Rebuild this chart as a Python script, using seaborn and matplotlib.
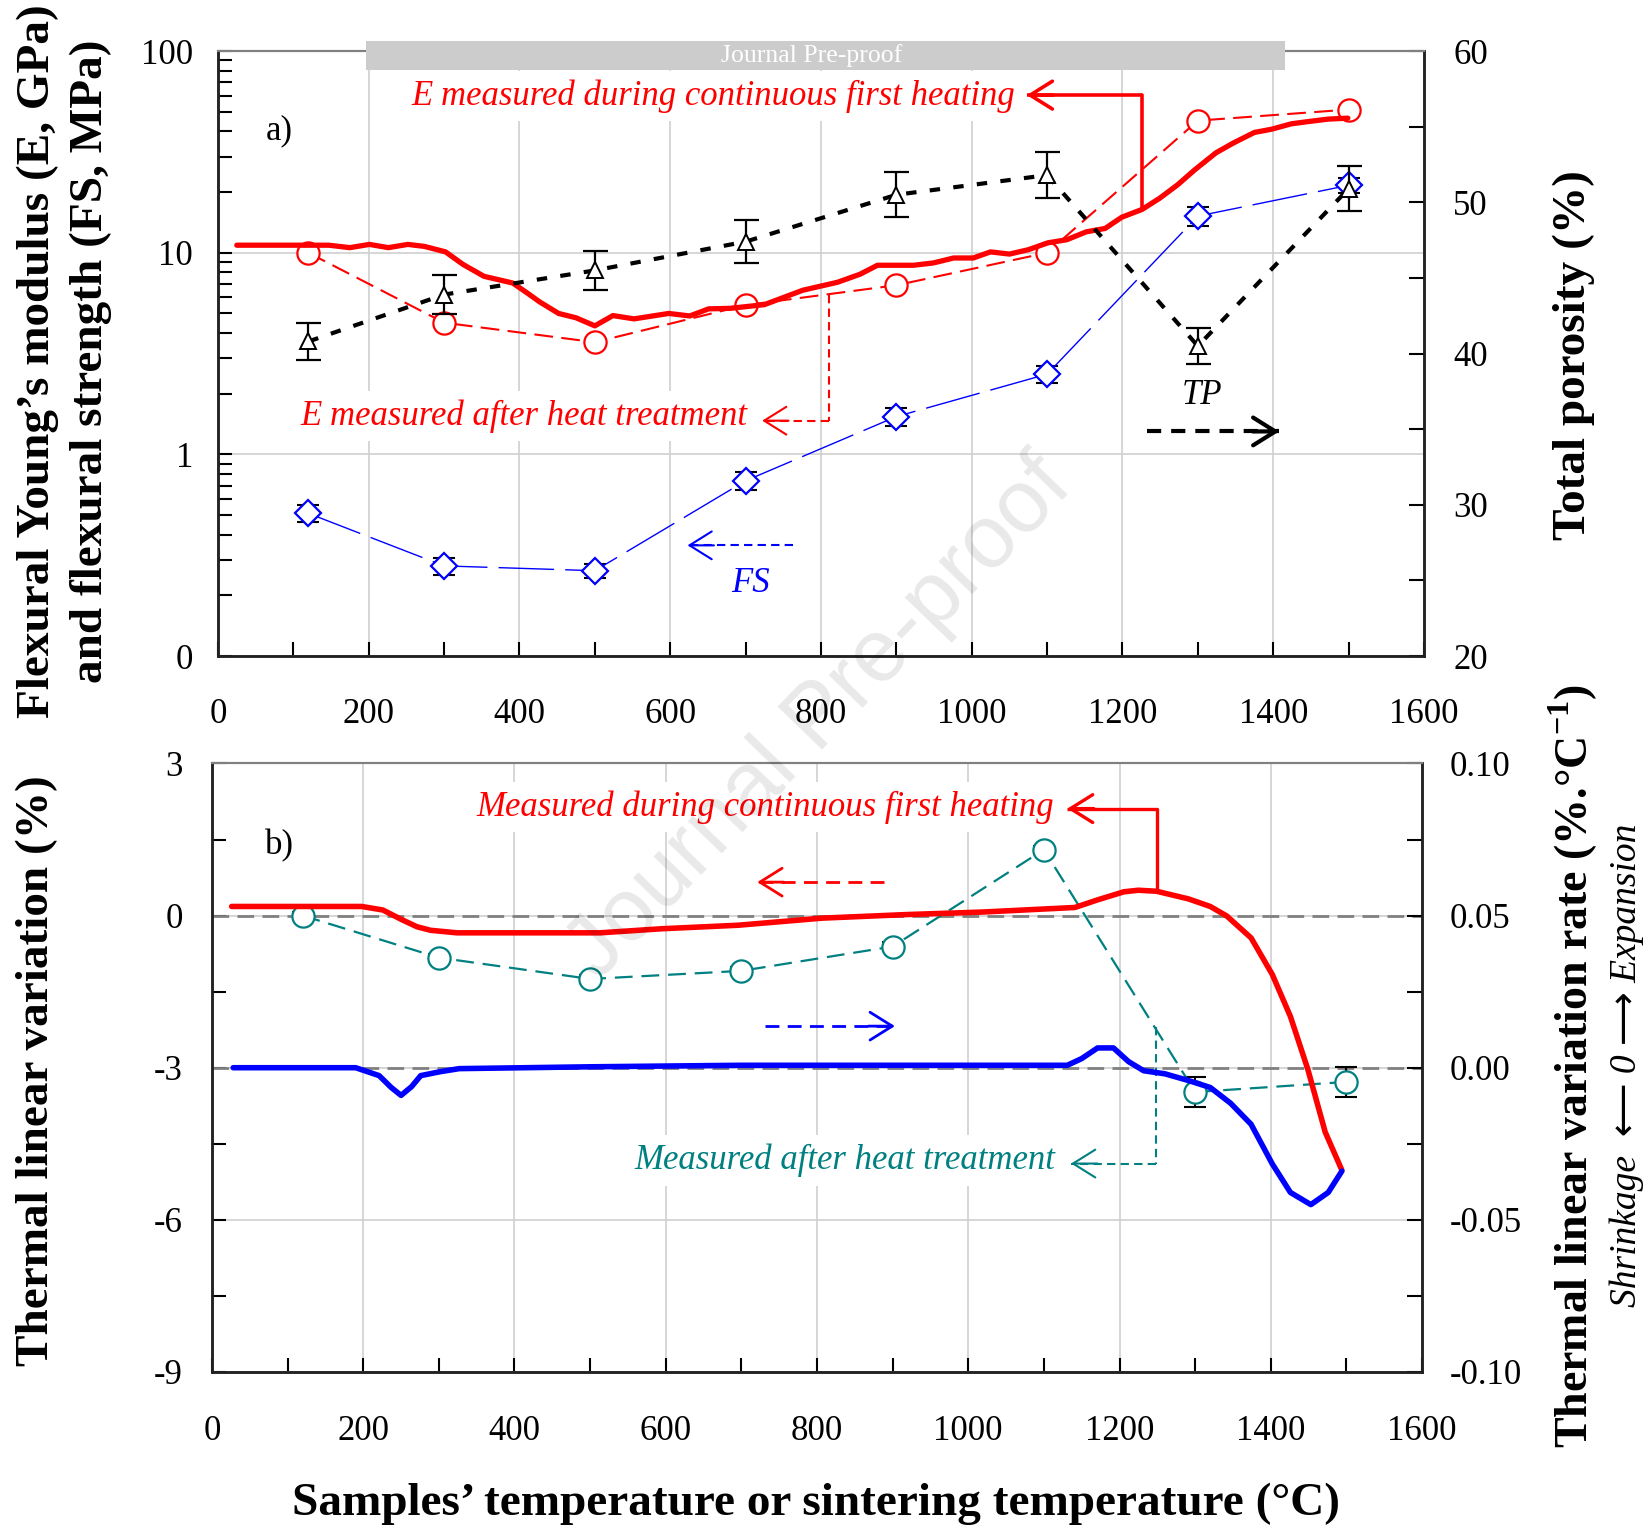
import numpy as np
import matplotlib
matplotlib.use("Agg")
import matplotlib.pyplot as plt
import seaborn as sns
from matplotlib.patches import Rectangle
from matplotlib.ticker import (FixedLocator, FixedFormatter, MultipleLocator,
                               LogLocator, NullFormatter)

# ---- panel a) : E and FS on the left (log), total porosity on the right ----
samp_T = [120, 300, 500, 700, 900, 1100, 1300, 1500]
e_heat = [10.0, 4.5, 3.6, 5.5, 6.9, 10.0, 45.2, 51.3]
fs = [0.51, 0.28, 0.265, 0.74, 1.54, 2.5, 15.2, 21.6]
fs_err = [0.05, 0.028, 0.02, 0.075, 0.16, 0.25, 1.6, 1.9]
tp = [40.8, 43.9, 45.5, 47.4, 50.5, 51.8, 40.5, 50.9]
tp_err = [1.2, 1.3, 1.3, 1.4, 1.5, 1.5, 1.2, 1.5]

e_cont_T = [25, 147, 175, 201, 226, 252, 274, 302, 325, 353, 391, 411, 427, 452,
            475, 500, 524, 552, 598, 626, 651, 679, 725, 776, 822, 852, 875, 923,
            949, 976, 1002, 1025, 1050, 1075, 1101, 1126, 1152, 1177, 1199, 1226,
            1249, 1273, 1296, 1324, 1347, 1375, 1398, 1424, 1450, 1473, 1499]
e_cont = [10.9, 10.9, 10.6, 11.0, 10.6, 11.0, 10.75, 10.1, 8.76, 7.64, 7.08, 6.29,
          5.70, 5.0, 4.76, 4.34, 4.88, 4.7, 5.0, 4.86, 5.27, 5.3, 5.53, 6.52, 7.14,
          7.83, 8.67, 8.67, 8.9, 9.42, 9.42, 10.1, 9.85, 10.35, 11.2, 11.6, 12.7,
          13.2, 15.0, 16.4, 18.6, 21.7, 25.8, 31.3, 35.0, 39.5, 41.0, 43.6, 44.9,
          46.0, 46.5]

# ---- panel b) : linear variation (left) and its rate (right) ----
lin_T = [26, 198, 226, 251, 271, 289, 324, 513, 594, 696, 807, 918, 1019, 1141,
         1171, 1206, 1225, 1249, 1291, 1320, 1342, 1374, 1402, 1426, 1449, 1472, 1494]
lin = [0.18, 0.18, 0.11, -0.08, -0.22, -0.29, -0.34, -0.34, -0.26, -0.19, -0.05,
       0.02, 0.07, 0.16, 0.31, 0.47, 0.50, 0.48, 0.33, 0.18, -0.01, -0.44, -1.16,
       -1.99, -3.03, -4.27, -5.02]

rate_T = [28, 190, 221, 237, 250, 264, 276, 302, 327, 500, 700, 900, 1131, 1150,
          1171, 1192, 1212, 1232, 1260, 1291, 1320, 1347, 1374, 1402, 1426, 1453,
          1476, 1494]
rate = [0.0, 0.0, -0.0026, -0.0065, -0.0091, -0.0062, -0.0026, -0.0013, -0.0003,
        0.0003, 0.0008, 0.0008, 0.0008, 0.003, 0.0065, 0.0065, 0.002, -0.001,
        -0.002, -0.0042, -0.0065, -0.0117, -0.0186, -0.0316, -0.041, -0.045,
        -0.041, -0.034]

lin_heat = [0.0, -0.83, -1.25, -1.09, -0.61, 1.30, -3.48, -3.28]
lin_err = [0.08, 0.08, 0.08, 0.08, 0.08, 0.08, 0.29, 0.29]

sns.set_style("ticks")
plt.rcParams['font.family'] = ['Liberation Serif', 'DejaVu Serif']
plt.rcParams['axes.unicode_minus'] = False
plt.rcParams['mathtext.fontset'] = 'custom'
plt.rcParams['mathtext.rm'] = 'Liberation Serif'
plt.rcParams['mathtext.bf'] = 'Liberation Serif:bold'
for k in ('text.color', 'axes.labelcolor', 'xtick.color', 'ytick.color'):
    plt.rcParams[k] = 'black'

TEAL = '#008080'
GRID = '#cfcfcf'
FS_TICK = 25
FS_TXT = 25
FS_LAB = 34


def arrow(axis, x0, x1, y, color, lw, dash):
    # shaft from x0 to x1 and an open chevron head at x1
    axis.plot([x0, x1], [y, y], color=color, lw=lw, linestyle=dash,
              solid_capstyle='butt')
    d = 35 if x1 > x0 else -35
    axis.annotate('', xy=(x1, y), xytext=(x1 - d, y),
                  arrowprops=dict(arrowstyle='->,head_length=0.4,head_width=0.25',
                                  color=color, lw=lw, mutation_scale=40,
                                  shrinkA=0, shrinkB=0))


def style_spines(a):
    for s in a.spines.values():
        s.set_linewidth(1.8)
        s.set_color('#222222')
    a.spines['top'].set_color('#808080')
    a.spines['top'].set_linewidth(1.5)


fig = plt.figure(figsize=(16.51, 15.30), dpi=100)

# =================== panel a) ===================
ax = fig.add_axes([0.1320, 0.5712, 0.7305, 0.3954])
ax.set_yscale('log')
ax2 = ax.twinx()

sns.lineplot(x=e_cont_T, y=e_cont, ax=ax, color='red', linewidth=3.8, zorder=4)
sns.lineplot(x=samp_T, y=e_heat, ax=ax, color='red', linewidth=1.5,
             linestyle=(0, (9, 4)), marker='o', markersize=16,
             markerfacecolor='white', markeredgecolor='red', markeredgewidth=1.6,
             zorder=3)
ax.errorbar(samp_T, fs, yerr=fs_err, fmt='none', ecolor='black', elinewidth=1.5,
            capsize=8, capthick=1.5, zorder=2)
sns.lineplot(x=samp_T, y=fs, ax=ax, color='blue', linewidth=1.0,
             linestyle=(0, (40, 8)), marker='D', markersize=13,
             markerfacecolor='white', markeredgecolor='blue', markeredgewidth=1.6,
             zorder=3)

ax2.errorbar(samp_T, tp, yerr=tp_err, fmt='none', ecolor='black', elinewidth=1.6,
             capsize=9, capthick=1.6, zorder=2)
sns.lineplot(x=samp_T, y=tp, ax=ax2, color='black', linewidth=3.0,
             linestyle=(0, (2.5, 3.2)), marker='^', markersize=11,
             markerfacecolor='white', markeredgecolor='black', markeredgewidth=1.4,
             zorder=3)

ax.set_xlim(0, 1600)
ax.set_ylim(0.1, 100)
ax2.set_ylim(20, 60)
ax.xaxis.set_major_locator(MultipleLocator(200))
ax.xaxis.set_minor_locator(MultipleLocator(100))
ax.yaxis.set_major_locator(FixedLocator([0.1, 1, 10, 100]))
ax.yaxis.set_major_formatter(FixedFormatter(['0', '1', '10', '100']))
ax.yaxis.set_minor_locator(LogLocator(base=10, subs=np.arange(2, 10)))
ax.yaxis.set_minor_formatter(NullFormatter())
ax2.yaxis.set_major_locator(MultipleLocator(10))
ax2.yaxis.set_minor_locator(MultipleLocator(5))

ax.grid(True, which='major', color=GRID, lw=1.2)
ax.tick_params(which='both', direction='in', length=10, width=1.5,
               labelsize=FS_TICK)
ax.tick_params(axis='x', pad=30)
ax.tick_params(axis='y', pad=18)
ax2.tick_params(which='both', direction='in', length=11, width=1.5,
                labelsize=FS_TICK, pad=21)
for a in (ax, ax2):
    style_spines(a)
    a.set_xlabel('')
    a.set_ylabel('')

box = dict(facecolor='white', edgecolor='none', pad=6)
ax.text(1058, 60, 'E measured during continuous first heating', color='red',
        style='italic', fontsize=FS_TXT, ha='right', va='center', zorder=1.5,
        bbox=box)
ax.plot([1226, 1226], [16.4, 60.5], color='red', lw=2.6, zorder=4)
arrow(ax, 1226, 1073, 60.5, 'red', 2.6, '-')

ax.text(702, 1.55, 'E measured after heat treatment', color='red',
        style='italic', fontsize=FS_TXT, ha='right', va='center', zorder=1.5,
        bbox=box)
ax.plot([811, 811], [6.14, 1.47], color='red', lw=1.5, linestyle=(0, (4, 2.5)))
arrow(ax, 811, 722, 1.47, 'red', 1.5, (0, (4, 2.5)))

arrow(ax, 763, 623, 0.354, 'blue', 1.5, (0, (4, 2.5)))
ax.text(707, 0.23, 'FS', color='blue', style='italic', fontsize=FS_TXT,
        ha='center', va='center')
arrow(ax, 1233, 1408, 1.30, 'black', 3.0, (0, (3.4, 2.4)))
ax.text(1305, 1.95, 'TP', color='black', style='italic', fontsize=FS_TXT,
        ha='center', va='center')
ax.text(81, 40.4, 'a)', fontsize=FS_TXT, ha='center', va='center')

# =================== panel b) ===================
bx = fig.add_axes([0.1284, 0.1033, 0.7329, 0.3977])
bx2 = bx.twinx()

bx.axhline(0, color='#808080', lw=2.0, linestyle=(0, (6, 3)), zorder=1.6)
bx.axhline(-3, color='#808080', lw=2.0, linestyle=(0, (6, 3)), zorder=1.6)

sns.lineplot(x=lin_T, y=lin, ax=bx, color='red', linewidth=4.0, zorder=4)
bx.errorbar(samp_T, lin_heat, yerr=lin_err, fmt='none', ecolor='black',
            elinewidth=1.5, capsize=8, capthick=1.5, zorder=2)
sns.lineplot(x=samp_T, y=lin_heat, ax=bx, color=TEAL, linewidth=1.6,
             linestyle=(0, (8, 4)), marker='o', markersize=16,
             markerfacecolor='white', markeredgecolor=TEAL, markeredgewidth=1.6,
             zorder=3)
sns.lineplot(x=rate_T, y=rate, ax=bx2, color='blue', linewidth=4.0, zorder=4)

bx.set_xlim(0, 1600)
bx.set_ylim(-9, 3)
bx2.set_ylim(-0.1, 0.1)
bx.xaxis.set_major_locator(MultipleLocator(200))
bx.xaxis.set_minor_locator(MultipleLocator(100))
bx.yaxis.set_major_locator(MultipleLocator(3))
bx.yaxis.set_minor_locator(MultipleLocator(1.5))
bx2.yaxis.set_major_locator(FixedLocator([-0.1, -0.05, 0, 0.05, 0.1]))
bx2.yaxis.set_major_formatter(FixedFormatter(['-0.10', '-0.05', '0.00',
                                              '0.05', '0.10']))
bx2.yaxis.set_minor_locator(MultipleLocator(0.025))

bx.grid(True, which='major', color=GRID, lw=1.2)
bx.tick_params(which='both', direction='in', length=10, width=1.5,
               labelsize=FS_TICK)
bx.tick_params(axis='x', pad=31)
bx.tick_params(axis='y', pad=21)
bx2.tick_params(which='both', direction='in', length=11, width=1.5,
                labelsize=FS_TICK, pad=20)
for a in (bx, bx2):
    style_spines(a)
    a.set_xlabel('')
    a.set_ylabel('')

bx.text(1113, 2.14, 'Measured during continuous first heating', color='red',
        style='italic', fontsize=FS_TXT, ha='right', va='center', zorder=1.5,
        bbox=box)
bx.plot([1250, 1250], [0.49, 2.11], color='red', lw=2.4, zorder=4)
arrow(bx, 1250, 1131, 2.11, 'red', 2.4, '-')

bx.text(1115, -4.83, 'Measured after heat treatment', color=TEAL,
        style='italic', fontsize=FS_TXT, ha='right', va='center', zorder=1.5,
        bbox=box)
bx.plot([1248, 1248], [-2.2, -4.89], color=TEAL, lw=1.5, linestyle=(0, (4, 2.5)))
arrow(bx, 1248, 1136, -4.89, TEAL, 1.5, (0, (4, 2.5)))

arrow(bx, 888, 721, 0.66, 'red', 2.0, (0, (5, 3)))
arrow(bx, 731, 903, -2.18, 'blue', 2.0, (0, (5, 3)))
bx.text(89, 1.37, 'b)', fontsize=FS_TXT, ha='center', va='center')

# =================== labels ===================
fig.text(0.039, 0.764, 'Flexural Young’s modulus (E, GPa)\nand flexural strength (FS, MPa)',
         rotation=90, ha='center', va='center', fontsize=FS_LAB,
         fontweight='bold', linespacing=1.35)
fig.text(0.953, 0.768, 'Total porosity (%)', rotation=90, ha='center',
         va='center', fontsize=FS_LAB, fontweight='bold')
fig.text(0.0224, 0.300, 'Thermal linear variation (%)', rotation=90,
         ha='center', va='center', fontsize=FS_LAB, fontweight='bold')
fig.text(0.953, 0.3035, 'Thermal linear variation rate (%.°C$^{\\mathbf{-1}}$)',
         rotation=90, ha='center', va='center', fontsize=33,
         fontweight='bold')
fig.text(0.9853, 0.3035, 'Shrinkage  ⟵ 0 ⟶ Expansion', rotation=90,
         ha='center', va='center', fontsize=27, style='italic',
         family=['Liberation Serif', 'DejaVu Sans'])
fig.text(0.494, 0.017, 'Samples’ temperature or sintering temperature (°C)',
         ha='center', va='center', fontsize=FS_LAB, fontweight='bold')

# watermark
fig.patches.append(Rectangle((0.2214, 0.9542), 0.5572, 0.0190,
                             transform=fig.transFigure, facecolor='#cccccc',
                             edgecolor='none', zorder=5))
fig.text(0.4913, 0.9635, 'Journal Pre-proof', color='white', fontsize=18.5,
         ha='center', va='center', zorder=6)
fig.text(0.497, 0.530, 'Journal Pre-proof', rotation=46, fontsize=64,
         family='Liberation Sans', color='black', alpha=0.09,
         ha='center', va='center', zorder=6)

fig.savefig('out.png', dpi=100)
